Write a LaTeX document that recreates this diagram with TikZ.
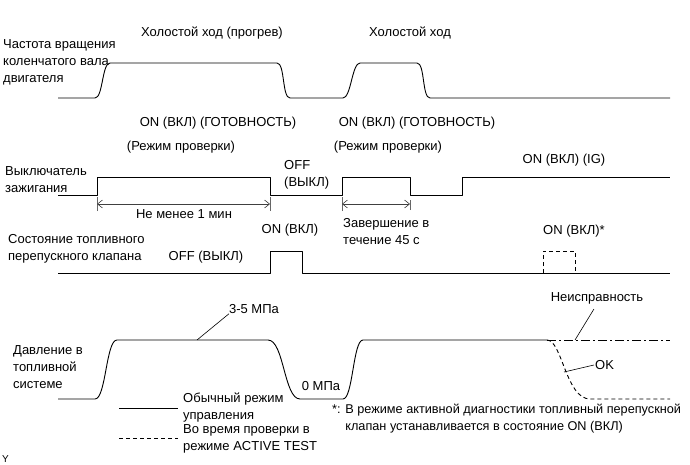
\documentclass[tikz,border=0pt]{standalone}
\usepackage{fontspec}
\setmainfont{Liberation Sans}
\usetikzlibrary{positioning, arrows.meta}

\tikzset{
  lbl/.style={inner sep=0pt, font=\fontsize{13}{17}\selectfont},
  side/.style={lbl, anchor=west, align=left},
  sig/.style={line width=0.9pt, line join=round},
  test/.style={sig, dash pattern=on 4pt off 3pt},
  fault/.style={sig, dash pattern=on 9pt off 3pt on 2pt off 3pt},
  lead/.style={line width=0.6pt},
  dim/.style={line width=0.6pt, black!75, {Straight Barb[length=5pt,width=8pt]}-{Straight Barb[length=5pt,width=8pt]}},
  tick/.style={line width=0.6pt, black!60},
}

\begin{document}
\begin{tikzpicture}[x=1pt, y=-1pt]
\useasboundingbox (0,0) rectangle (690,465);

% names of the traces
\node[side] (rpm) at (3,62) {Частота вращения\\коленчатого вала\\двигателя};
\node[side] (ign) at (5,180) {Выключатель\\зажигания};
\node[side] (valve) at (8,249) {Состояние топливного\\перепускного клапана};
\node[side] (press) at (13,367) {Давление в\\топливной\\системе};

% engine speed
\node[lbl] (idle1) at (212,33) {Холостой ход (прогрев)};
\node[lbl] (idle2) at (410,33) {Холостой ход};
\draw[sig] (58,98) -- (95,98) .. controls (103,98) and (102,63) .. (110,63) -- (277,63)
  .. controls (285,63) and (282,98) .. (290,98) -- (343,98)
  .. controls (351,98) and (352,63) .. (360,63) -- (417,63)
  .. controls (425,63) and (422,98) .. (430,98) -- (670,98);

% ignition switch
\node[lbl] (rdy1) at (218,123) {ON (ВКЛ) (ГОТОВНОСТЬ)};
\node[lbl] (rdy2) at (417,123) {ON (ВКЛ) (ГОТОВНОСТЬ)};
\node[lbl] (chk1) at (181,147) {(Режим проверки)};
\node[lbl] (chk2) at (388,147) {(Режим проверки)};
\node[lbl] (igon) at (564,160) {ON (ВКЛ) (IG)};
\node[side] (off) at (284,175) {OFF\\(ВЫКЛ)};
\draw[sig] (58,195) -- (97,195) -- (97,177) -- (270,177) -- (270,195) -- (342,195)
  -- (342,177) -- (410,177) -- (410,195) -- (462,195) -- (462,177) -- (670,177);

\coordinate (w1) at (97,204);
\coordinate (w2) at (270,204);
\coordinate (w3) at (342,204);
\coordinate (w4) at (410,204);
\foreach \p in {w1,w2,w3}
  \draw[tick] ([yshift=-7pt]\p) -- ([yshift=7pt]\p);
\draw[tick] ([yshift=-6pt]w4) -- ([yshift=4pt]w4);
\draw[dim] (w1) -- (w2);
\draw[dim] (w3) -- (w4);
\node[lbl] (min1) at (184,214) {Не менее 1 мин};
\node[side] (s45) at (343,232) {Завершение в\\течение 45 с};

% bypass valve
\node[lbl] (von) at (290,230) {ON (ВКЛ)};
\node[lbl] (voff) at (206,257) {OFF (ВЫКЛ)};
\node[lbl] (vstar) at (574,231) {ON (ВКЛ)*};
\draw[sig] (58,273) -- (270,273) -- (270,251) -- (302,251) -- (302,273) -- (670,273);
\draw[test] (543,273) -- (543,251) -- (575,251) -- (575,273);

% fuel pressure
\draw[sig] (58,399) -- (95,399) .. controls (106,399) and (106,340) .. (117,340) -- (268,340)
  .. controls (284,340) and (284,399) .. (300,399) -- (343,399)
  .. controls (353,399) and (353,340) .. (363,340) -- (547,340);
\draw[fault] (547,340) -- (670,340);
\draw[test] (547,340) .. controls (562,340) and (566,399) .. (590,399) -- (670,399);

\node[lbl] (mpa) at (254,309) {3-5 МПа};
\coordinate (mpaend) at (197,340);
\draw[lead] (mpa.south west) -- (mpaend);
\node[lbl] (zero) at (321,386) {0 МПа};
\node[lbl] (bad) at (597,298) {Неисправность};
\coordinate (badend) at (575,340);
\draw[lead, shorten <=6pt] (bad.south) -- (badend);
\node[lbl, anchor=west] (ok) at (595,365) {OK};
\coordinate (okend) at (564,372);
\draw[lead] ([xshift=-1pt]ok.west) -- (okend);

% legend
\coordinate (la) at (119,408);
\coordinate (lb) at (178,408);
\coordinate (lc) at (119,438);
\coordinate (ld) at (178,438);
\draw[sig] (la) -- (lb);
\draw[test] (lc) -- (ld);
\node[side] (normal) at (183,408) {Обычный режим\\управления};
\node[side] (active) at (183,439) {Во время проверки в\\режиме ACTIVE TEST};

% note
\node[side, font=\fontsize{12.7}{17}\selectfont] (note) at (332,419) {*: В режиме активной диагностики топливный перепускной\\\phantom{*: }клапан устанавливается в состояние ON (ВКЛ)};
\node[lbl, anchor=west, font=\fontsize{10}{11}\selectfont] (mark) at (2,459) {Y};
\end{tikzpicture}
\end{document}
